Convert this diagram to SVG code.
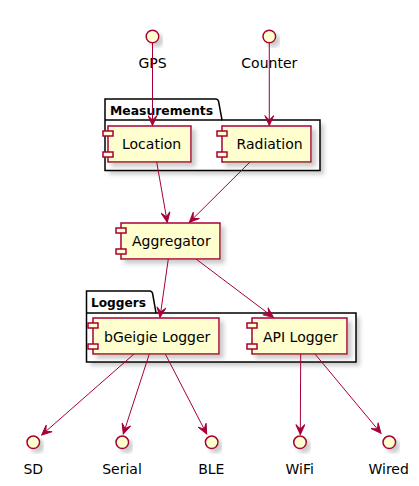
<svg xmlns="http://www.w3.org/2000/svg" width="419" height="486" viewBox="0 0 419 486">
<style>
  .comp { fill: #FEFECE; stroke: #A80036; stroke-width: 1.5; }
  .pkg { fill: none; stroke: #000000; stroke-width: 1.5; }
  .pkgbg { fill: #FFFFFF; stroke: none; }
  .lbl { font-family: "DejaVu Sans", "Liberation Sans", sans-serif; font-size: 14px; fill: #000000; }
  .plbl { font-family: "DejaVu Sans", "Liberation Sans", sans-serif; font-size: 13px; font-weight: bold; fill: #000000; }
  .edge { fill: none; stroke: #A80036; stroke-width: 1; }
</style>
<defs>
  <filter id="sh" x="-20%" y="-20%" width="150%" height="160%">
    <feGaussianBlur in="SourceAlpha" stdDeviation="2" result="b"/>
    <feColorMatrix in="b" type="matrix" values="0 0 0 0 0.4  0 0 0 0 0.4  0 0 0 0 0.4  0 0 0 0.6 0" result="c"/>
    <feOffset in="c" dx="4" dy="4" result="o"/>
    <feMerge><feMergeNode in="o"/><feMergeNode in="SourceGraphic"/></feMerge>
  </filter>
  <marker id="ah" viewBox="-11 -5 12 10" refX="0" refY="0" markerWidth="12" markerHeight="10" markerUnits="userSpaceOnUse" orient="auto">
    <path d="M0,0 L-10,-4.5 L-5.5,0 L-10,4.5 Z" fill="#A80036" stroke="#A80036" stroke-width="1"/>
  </marker>
</defs>

<g id="pkg-measurements">
  <path class="pkgbg" d="M105,120 L320,120 L320,170.5 L105,170.5 Z" filter="url(#sh)"/>
  <path class="pkg" d="M105,99 L216,99 A3,3 0 0 1 218.5,101 L222,120 L320,120 L320,170.5 L105,170.5 Z"/>
  <line class="pkg" x1="105" y1="120" x2="222" y2="120"/>
  <text class="plbl" x="110" y="114.5" textLength="103" lengthAdjust="spacingAndGlyphs">Measurements</text>
</g>

<g id="pkg-loggers">
  <path class="pkgbg" d="M86.5,313 L356,313 L356,362 L86.5,362 Z" filter="url(#sh)"/>
  <path class="pkg" d="M86.5,291 L150,291 A3,3 0 0 1 152.5,293 L156,313 L356,313 L356,362 L86.5,362 Z"/>
  <line class="pkg" x1="86.5" y1="313" x2="156" y2="313"/>
  <text class="plbl" x="91" y="306.5" textLength="55" lengthAdjust="spacingAndGlyphs">Loggers</text>
</g>

<g id="gps">
  <circle class="comp" cx="152.5" cy="36.5" r="6.3" filter="url(#sh)"/>
  <text class="lbl" x="152.5" y="67.5" text-anchor="middle">GPS</text>
</g>
<g id="counter">
  <circle class="comp" cx="269.3" cy="36.5" r="6.3" filter="url(#sh)"/>
  <text class="lbl" x="269.3" y="67.5" text-anchor="middle">Counter</text>
</g>

<g id="location">
  <rect class="comp" x="108" y="126" width="83" height="36" filter="url(#sh)"/>
  <rect class="comp" x="103" y="131" width="10" height="5"/>
  <rect class="comp" x="103" y="152" width="10" height="5"/>
  <text class="lbl" x="122" y="149">Location</text>
</g>
<g id="radiation">
  <rect class="comp" x="222" y="126" width="89" height="36" filter="url(#sh)"/>
  <rect class="comp" x="217" y="131" width="10" height="5"/>
  <rect class="comp" x="217" y="152" width="10" height="5"/>
  <text class="lbl" x="236.5" y="149">Radiation</text>
</g>
<g id="aggregator">
  <rect class="comp" x="121" y="223" width="99" height="36" filter="url(#sh)"/>
  <rect class="comp" x="116" y="228" width="10" height="5"/>
  <rect class="comp" x="116" y="249" width="10" height="5"/>
  <text class="lbl" x="132" y="246">Aggregator</text>
</g>
<g id="bgeigie">
  <rect class="comp" x="93" y="318" width="126" height="36" filter="url(#sh)"/>
  <rect class="comp" x="88" y="323" width="10" height="5"/>
  <rect class="comp" x="88" y="344" width="10" height="5"/>
  <text class="lbl" x="104" y="341.5">bGeigie Logger</text>
</g>
<g id="apilogger">
  <rect class="comp" x="252" y="318" width="95" height="36" filter="url(#sh)"/>
  <rect class="comp" x="247" y="323" width="10" height="5"/>
  <rect class="comp" x="247" y="344" width="10" height="5"/>
  <text class="lbl" x="263" y="341.5">API Logger</text>
</g>

<g id="sd">
  <circle class="comp" cx="33.3" cy="442.3" r="6.3" filter="url(#sh)"/>
  <text class="lbl" x="33.3" y="474" text-anchor="middle">SD</text>
</g>
<g id="serial">
  <circle class="comp" cx="122.3" cy="442.3" r="6.3" filter="url(#sh)"/>
  <text class="lbl" x="122" y="474" text-anchor="middle">Serial</text>
</g>
<g id="ble">
  <circle class="comp" cx="211.7" cy="442.3" r="6.3" filter="url(#sh)"/>
  <text class="lbl" x="211.3" y="474" text-anchor="middle">BLE</text>
</g>
<g id="wifi">
  <circle class="comp" cx="300" cy="442.3" r="6.3" filter="url(#sh)"/>
  <text class="lbl" x="299.7" y="474" text-anchor="middle">WiFi</text>
</g>
<g id="wired">
  <circle class="comp" cx="389.3" cy="442.3" r="6.3" filter="url(#sh)"/>
  <text class="lbl" x="388.7" y="474" text-anchor="middle">Wired</text>
</g>

<g id="connectors">
  <line class="edge" x1="152.5" y1="43" x2="152.5" y2="125.5" marker-end="url(#ah)"/>
  <line class="edge" x1="269.3" y1="43" x2="269.3" y2="125.5" marker-end="url(#ah)"/>
  <line class="edge" x1="156.7" y1="162" x2="167.3" y2="222.3" marker-end="url(#ah)"/>
  <line class="edge" x1="250" y1="162" x2="189.3" y2="222.3" marker-end="url(#ah)"/>
  <line class="edge" x1="168.3" y1="259" x2="160" y2="317.3" marker-end="url(#ah)"/>
  <line class="edge" x1="196" y1="259" x2="273.3" y2="317.3" marker-end="url(#ah)"/>
  <line class="edge" x1="134" y1="354" x2="41.7" y2="435" marker-end="url(#ah)"/>
  <line class="edge" x1="149.3" y1="354" x2="123.3" y2="434" marker-end="url(#ah)"/>
  <line class="edge" x1="165.3" y1="354" x2="206.7" y2="434" marker-end="url(#ah)"/>
  <line class="edge" x1="300.7" y1="354" x2="300.3" y2="434.5" marker-end="url(#ah)"/>
  <line class="edge" x1="315" y1="354" x2="381" y2="433.3" marker-end="url(#ah)"/>
</g>
</svg>
